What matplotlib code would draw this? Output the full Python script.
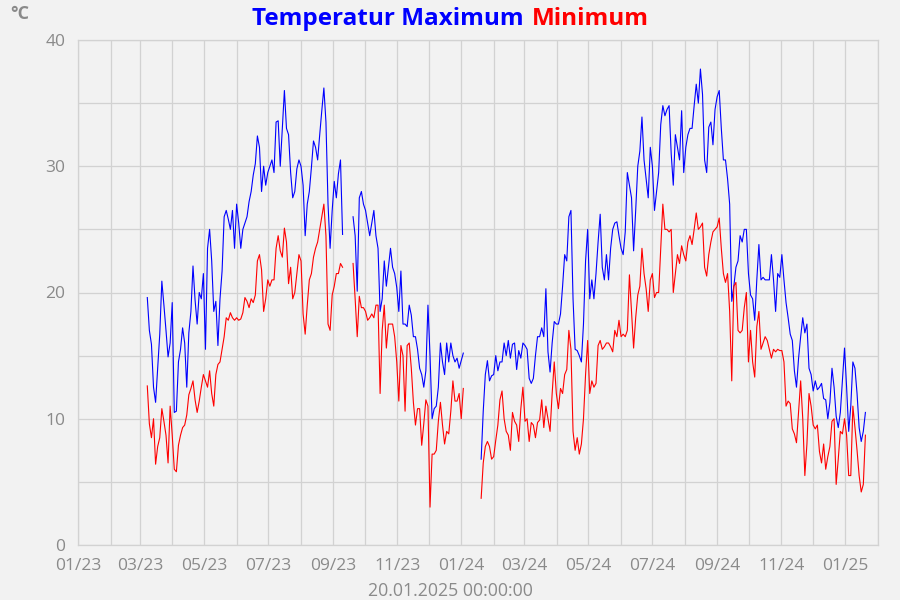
import pandas as pd
import matplotlib
matplotlib.use("Agg")
import matplotlib.pyplot as plt
import matplotlib.dates as mdates
from matplotlib.ticker import MultipleLocator

# -----------------------------
# Data: daily max / min temperature, read roughly every 2 days
# three pieces of record, gaps in Sep 2023 and Jan 2024
# -----------------------------
seg_a = ("2023-03-08", "2023-09-10")
seg_b = ("2023-09-20", "2024-01-03")
seg_c = ("2024-01-20", "2025-01-20")

tmax_a = [19.6, 17.0, 15.9, 12.5, 11.3, 14.0, 16.7, 20.9, 19.0, 17.0, 14.9, 16.0, 19.2, 10.5, 10.6,
          14.5, 15.5, 17.2, 16.0, 12.5, 16.8, 18.5, 22.1, 19.4, 17.5, 20.0, 19.5, 21.5, 15.5,
          23.5, 25.0, 22.5, 18.5, 19.3, 15.8, 19.5, 21.7, 26.0, 26.5, 25.8, 25.0, 26.5, 23.5,
          27.0, 25.5, 23.5, 25.0, 25.5, 26.0, 27.2, 28.0, 29.3, 30.2, 32.4, 31.5, 28.0, 30.0,
          28.5, 29.5, 30.0, 30.5, 29.5, 33.5, 33.6, 30.0, 33.0, 36.0, 33.0, 32.5, 29.5, 27.5,
          28.0, 29.8, 30.5, 30.0, 28.5, 24.5, 27.0, 28.0, 29.9, 32.0, 31.5, 30.5, 32.5, 34.4, 36.2,
          33.5, 27.0, 23.5, 26.5, 28.8, 27.5, 29.4, 30.5, 24.6]
tmin_a = [12.6, 9.6, 8.5, 10.0, 6.4, 7.8, 8.5, 10.8, 9.8, 8.7, 6.5, 11.0, 8.7, 6.0, 5.8,
          7.9, 8.7, 9.3, 9.5, 10.3, 11.9, 12.4, 13.0, 11.5, 10.5, 11.4, 12.5, 13.5, 13.0,
          12.5, 13.8, 12.0, 11.0, 13.5, 14.3, 14.5, 15.5, 16.5, 18.0, 17.8, 18.4, 18.0, 17.8,
          18.0, 17.8, 17.9, 18.4, 19.6, 19.3, 18.8, 19.5, 19.2, 19.8, 22.5, 23.0, 21.8, 18.5,
          19.5, 21.0, 20.5, 21.0, 21.0, 23.5, 24.5, 23.3, 22.8, 25.1, 24.0, 20.7, 22.0, 19.5,
          20.0, 21.5, 23.0, 22.5, 18.3, 16.7, 19.0, 21.0, 21.5, 22.8, 23.5, 24.0, 25.0, 26.0, 27.0,
          24.5, 17.5, 17.0, 19.8, 20.5, 21.5, 21.5, 22.3, 22.0]

tmax_b = [26.0, 24.5, 20.1, 27.5, 28.0, 27.0, 26.5, 25.5, 24.5, 25.5, 26.5, 24.5, 23.5, 18.5, 19.5, 22.5,
          20.5, 22.0, 23.5, 22.0, 21.5, 20.4, 18.5, 21.7, 17.5, 17.5, 17.3, 19.0, 18.2, 16.5,
          16.5, 15.5, 14.0, 13.5, 12.5, 13.8, 19.0, 15.0, 10.0, 10.8, 11.0, 12.5, 16.0, 14.5, 13.5,
          16.0, 14.5, 16.0, 15.0, 14.5, 14.8, 14.0, 14.6, 15.2]
tmin_b = [22.3, 19.5, 16.5, 19.7, 18.8, 18.8, 18.5, 17.8, 18.0, 18.3, 18.0, 19.0, 19.0, 12.0, 17.0, 19.0,
          15.6, 17.5, 17.5, 17.5, 16.5, 14.5, 11.4, 15.8, 15.0, 10.6, 15.8, 16.0, 14.0, 11.3,
          9.5, 10.8, 10.8, 7.9, 9.6, 11.5, 11.0, 3.0, 7.2, 7.2, 7.5, 9.8, 11.3, 9.5, 8.0,
          9.0, 8.8, 10.6, 13.0, 11.4, 11.4, 12.0, 10.0, 12.4]

tmax_c = [6.8, 10.6, 13.5, 14.6, 13.0, 13.4, 13.5, 15.0, 13.8, 14.5, 14.5, 16.0,
          15.0, 16.2, 14.8, 15.9, 16.0, 13.9, 15.4, 14.8, 16.0, 15.8, 15.5, 13.2, 12.8, 13.2,
          15.0, 16.5, 16.5, 17.2, 16.5, 20.3, 15.3, 13.7, 16.0, 17.7, 17.5, 17.5, 18.3, 20.5, 23.0,
          22.5, 26.0, 26.5, 19.5, 15.5, 15.4, 15.0, 14.5, 17.5, 22.5, 25.0, 19.5, 21.0, 19.5,
          21.5, 24.0, 26.2, 22.0, 21.0, 23.0, 21.0, 23.5, 25.0, 25.5, 25.6, 24.5, 23.5, 23.0, 24.8,
          29.5, 28.5, 27.5, 23.3, 26.5, 30.0, 31.2, 33.9, 30.5, 29.0, 27.5, 31.5, 30.0, 26.5,
          28.0, 29.5, 33.3, 34.8, 34.0, 34.5, 34.8, 31.0, 28.5, 32.5, 31.5, 30.5, 34.4, 29.5, 31.5,
          32.5, 33.0, 33.0, 34.8, 36.5, 35.0, 37.7, 35.7, 30.5, 29.5, 33.1, 33.5, 31.7, 34.5,
          35.5, 36.0, 33.0, 30.5, 30.5, 29.0, 27.0, 19.3, 20.5, 22.0, 22.5, 24.5, 24.0, 25.0,
          25.0, 21.5, 19.8, 19.5, 17.8, 21.0, 23.8, 21.0, 21.2, 21.0, 21.0, 21.0, 23.0, 21.0,
          18.5, 21.5, 21.2, 23.0, 21.0, 19.2, 18.0, 16.7, 16.2, 13.8, 12.5, 14.8, 16.5, 18.0, 16.8,
          17.5, 14.0, 13.5, 12.2, 13.0, 12.3, 12.5, 12.8, 11.6, 11.5, 10.0, 11.3, 14.0, 12.5,
          10.2, 9.3, 10.5, 13.0, 15.6, 12.5, 9.0, 11.0, 14.5, 14.0, 12.0, 9.3, 8.2, 9.0, 10.5]
tmin_c = [3.7, 6.5, 7.8, 8.2, 7.8, 6.8, 7.0, 8.3, 9.5, 11.5, 12.2, 10.0,
          9.0, 8.7, 7.5, 10.5, 9.8, 9.5, 8.2, 10.8, 12.5, 9.8, 10.0, 8.2, 9.7, 9.5,
          8.5, 9.7, 9.9, 11.5, 9.3, 11.0, 10.0, 9.0, 12.0, 14.5, 12.0, 10.8, 12.4, 12.0, 13.5,
          13.9, 17.0, 15.5, 9.0, 7.5, 8.5, 7.2, 8.0, 10.0, 13.5, 16.2, 12.0, 13.0, 12.5,
          12.8, 15.8, 16.2, 15.5, 15.7, 16.0, 16.0, 15.7, 15.3, 17.0, 16.5, 17.8, 16.5, 16.7, 16.5,
          17.0, 21.4, 18.5, 15.6, 18.0, 19.8, 20.5, 23.5, 21.5, 20.3, 18.5, 21.0, 21.5, 19.6,
          20.0, 20.0, 23.5, 27.0, 25.0, 25.0, 24.8, 25.0, 20.0, 21.5, 23.0, 22.3, 23.7, 23.0, 22.5,
          24.0, 24.5, 23.8, 25.0, 26.3, 25.0, 25.2, 25.5, 22.0, 21.3, 23.0, 24.0, 24.8, 25.0,
          25.2, 25.9, 23.5, 21.5, 20.8, 21.5, 18.5, 13.0, 20.5, 20.8, 17.0, 16.8, 17.0, 18.8,
          20.0, 14.5, 17.0, 14.5, 13.3, 17.3, 18.5, 15.5, 16.0, 16.5, 16.2, 15.5, 14.8, 15.5,
          15.3, 15.5, 15.4, 15.4, 14.5, 11.0, 11.4, 11.2, 9.2, 8.8, 8.1, 10.5, 13.0, 10.0, 5.5,
          8.0, 12.0, 11.0, 9.5, 9.2, 9.5, 7.4, 6.5, 8.0, 6.0, 7.0, 7.8, 9.8, 10.0,
          4.8, 6.8, 9.0, 8.8, 10.0, 8.7, 5.5, 5.5, 11.0, 9.3, 7.5, 5.5, 4.2, 4.8, 8.7]

segments = [(seg_a, tmax_a, tmin_a), (seg_b, tmax_b, tmin_b), (seg_c, tmax_c, tmin_c)]

BG = "#f2f2f2"
GRID = "#d2d2d2"
GRAY = "#8a8a8a"
plt.rcParams["font.family"] = ["Open Sans", "DejaVu Sans"]

# -----------------------------
# Plot
# -----------------------------
fig = plt.figure(figsize=(9, 6), dpi=100, facecolor=BG)
ax = fig.add_axes([78 / 900, 55 / 600, 800 / 900, 505 / 600], facecolor=BG)

for (start, end), tmax, tmin in segments:
    d_max = pd.date_range(start, end, periods=len(tmax))
    d_min = pd.date_range(start, end, periods=len(tmin))
    ax.plot(d_max, tmax, color="#0000ff", lw=0.8)
    ax.plot(d_min, tmin, color="#ff0000", lw=0.8)

ax.set_xlim(pd.Timestamp("2023-01-01"), pd.Timestamp("2025-02-01"))
ax.set_ylim(0, 40)

ax.xaxis.set_major_locator(mdates.MonthLocator(bymonth=[1, 3, 5, 7, 9, 11]))
ax.xaxis.set_major_formatter(mdates.DateFormatter("%m/%y"))
ax.xaxis.set_minor_locator(mdates.MonthLocator())
ax.yaxis.set_major_locator(MultipleLocator(10))
ax.yaxis.set_minor_locator(MultipleLocator(5))

ax.grid(True, which="both", color=GRID, lw=0.9)
ax.set_axisbelow(True)
for sp in ax.spines.values():
    sp.set_color(GRID)
    sp.set_linewidth(0.9)
ax.tick_params(which="both", length=0, colors=GRAY, labelsize=12.5)
ax.tick_params(axis="x", pad=9)
ax.tick_params(axis="y", pad=9)

fig.text(0.582, 0.968, "Temperatur Maximum", color="#0000ff", fontsize=17.5,
         fontweight="bold", ha="right", va="center")
fig.text(0.591, 0.968, "Minimum", color="#ff0000", fontsize=17.5,
         fontweight="bold", ha="left", va="center")
fig.text(0.011, 0.976, "°C", color=GRAY, fontsize=13, fontweight="bold", va="center")
fig.text(0.5, 0.015, "20.01.2025 00:00:00", color=GRAY, fontsize=12.8, ha="center", va="center")

fig.savefig("out.png", dpi=100, facecolor=BG)
